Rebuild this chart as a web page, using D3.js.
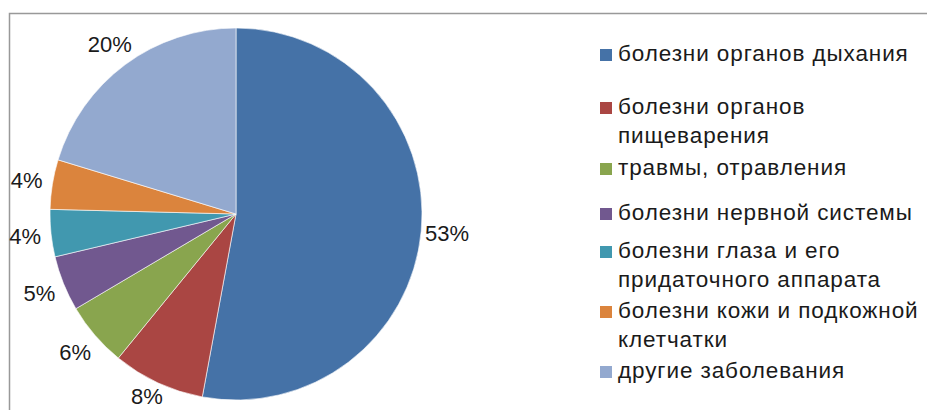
<!DOCTYPE html>
<html><head><meta charset="utf-8">
<script src="https://cdn.jsdelivr.net/npm/d3@7"></script>
<style>html,body{margin:0;padding:0;background:#fff;}svg{display:block;}</style>
</head><body>
<svg id="c" width="927" height="410"></svg>
<script>
const categories = ["болезни органов дыхания","болезни органов пищеварения","травмы, отравления","болезни нервной системы","болезни глаза и его придаточного аппарата","болезни кожи и подкожной клетчатки","другие заболевания"];
const legendLines = [["болезни органов дыхания"],["болезни органов","пищеварения"],["травмы, отравления"],["болезни нервной системы"],["болезни глаза и его","придаточного аппарата"],["болезни кожи и подкожной","клетчатки"],["другие заболевания"]];
const values = [52.9, 8.0, 5.6, 4.8, 4.1, 4.3, 20.3];
const colors = ["#4572A7","#AA4643","#89A54E","#71588F","#4198AF","#DB843D","#93A9CF"];
const legendBaselines = [61, 114, 175, 220, 258, 318, 378];

const svg = d3.select("#c");
const font = "'Liberation Sans', Arial, sans-serif";

// frame
svg.append("path").attr("d","M9.5,410 V13.5 H927").attr("fill","none").attr("stroke","#999").attr("stroke-width",1.5);

const cx = 236, cy = 214, r = 186;
const g = svg.append("g").attr("transform",`translate(${cx},${cy})`);
const pie = d3.pie().sort(null).value(d=>d);
const arcs = pie(values);
const arc = d3.arc().innerRadius(0).outerRadius(r);
g.selectAll("path.s").data(arcs).join("path").attr("class","s")
  .attr("d",arc).attr("fill",(d,i)=>colors[i]).attr("stroke","#fff").attr("stroke-width",0.6);

const total = d3.sum(values);
const labelArc = d3.arc().innerRadius(212).outerRadius(212);
g.selectAll("text.l").data(arcs).join("text").attr("class","l")
  .attr("transform",d=>{const [x,y]=labelArc.centroid(d); return `translate(${x},${Math.min(y,182)})`;})
  .attr("text-anchor","middle").attr("dy","0.36em")
  .attr("font-family",font).attr("font-size",22).attr("fill","#1a1a1a")
  .text(d=>Math.round(d.data/total*100)+"%");

// legend
const lg = svg.append("g");
legendLines.forEach((lines,i)=>{
  const b = legendBaselines[i];
  lg.append("rect").attr("x",600).attr("y",b-12).attr("width",12).attr("height",12).attr("fill",colors[i]);
  const t = lg.append("text").attr("font-family",font).attr("font-size",22.5).attr("fill","#1a1a1a").attr("letter-spacing",0.9);
  lines.forEach((ln,j)=>{
    t.append("tspan").attr("x",618).attr("y",b+j*28.5).text(ln);
  });
});
</script>
</body></html>
